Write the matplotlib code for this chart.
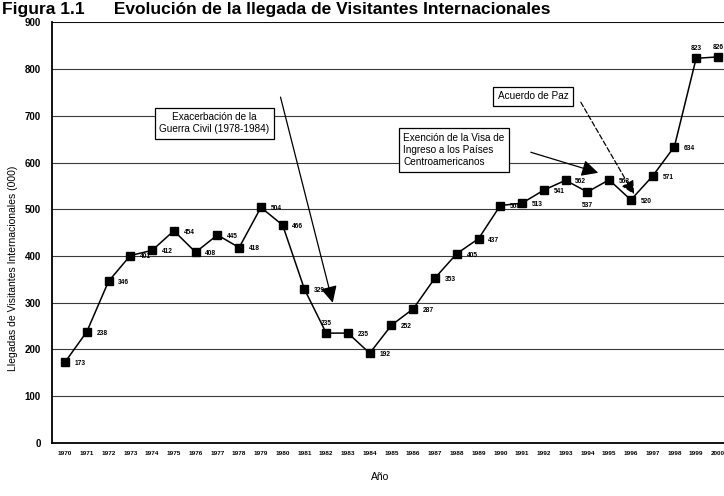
# -*- coding: utf-8 -*-
"""Evolución de la llegada de visitantes internacionales, 1970-2000."""

import matplotlib

matplotlib.use("Agg")
import matplotlib.pyplot as plt
from matplotlib import font_manager

years = list(range(1970, 2001))
visitors = [173, 238, 346, 401, 412, 454, 408, 445, 418, 504,
            466, 329, 235, 235, 192, 252, 287, 353, 405, 437,
            508, 513, 541, 562, 537, 563, 520, 571, 634, 823, 826]
y_ticks = [0, 100, 200, 300, 400, 500, 600, 700, 800, 900]

title = "Figura 1.1      Evolución de la llegada de Visitantes Internacionales"
y_label = "Llegadas de Visitantes Internacionales (000)"
x_label = "Año"
note_war = "Exacerbación de la\nGuerra Civil (1978-1984)"
note_visa = "Exención de la Visa de\nIngreso a los Países\nCentroamericanos"
note_peace = "Acuerdo de Paz"

installed = {f.name for f in font_manager.fontManager.ttflist}
narrow = "Liberation Sans Narrow" if "Liberation Sans Narrow" in installed else "Liberation Sans"
plt.rcParams["font.family"] = [narrow, "DejaVu Sans"]

fig = plt.figure(figsize=(7.24, 4.96), dpi=100)
ax = fig.add_axes([52 / 724, 0.107, 1 - 52 / 724, 0.848])
ax.set_xlim(1969.4, 2000.28)
ax.set_ylim(0, 900)

for v in y_ticks[1:]:
    ax.axhline(v, color="#3a3a3a", lw=0.8, zorder=1)

ax.plot(years, visitors, color="black", lw=1.1, marker="s", markersize=6.2,
        markerfacecolor="black", markeredgecolor="black", zorder=3)

# where a value label does not sit right of its marker
label_place = {1982: (0, 7, "center"), 1994: (0, -10, "center"),
               1999: (0, 7, "center"), 2000: (0, 7, "center")}
for yr, v in zip(years, visitors):
    dx, dy, ha = label_place.get(yr, (7, -1, "left"))
    ax.annotate(str(v), (yr, v), xytext=(dx, dy), textcoords="offset points",
                ha=ha, va="center", fontsize=4.8, fontweight="bold", zorder=4)

box = dict(boxstyle="square,pad=0.45", facecolor="white", edgecolor="black", lw=0.9)
ax.text(1976.85, 684, note_war, ha="center", va="center", fontsize=7.2,
        linespacing=1.3, bbox=box, zorder=5)
ax.text(1985.55, 627, note_visa, ha="left", va="center", multialignment="left",
        fontsize=7.2, linespacing=1.3, bbox=box, zorder=5)
ax.text(1991.5, 742, note_peace, ha="center", va="center", fontsize=7.2,
        bbox=box, zorder=5)

arrow = dict(arrowstyle="-|>,head_length=1.0,head_width=0.5", color="black",
             lw=0.9, shrinkA=0, shrinkB=0)
ax.annotate("", xy=(1982.3, 300), xytext=(1979.9, 740), arrowprops=arrow, zorder=4)
ax.annotate("", xy=(1994.5, 578), xytext=(1991.4, 622), arrowprops=arrow, zorder=4)
ax.annotate("", xy=(1996.15, 532), xytext=(1993.7, 729),
            arrowprops=dict(arrow, arrowstyle="-|>,head_length=0.8,head_width=0.4",
                            linestyle=(0, (4, 2))), zorder=4)

ax.set_xticks(years)
ax.set_xticklabels([str(y) for y in years], fontsize=4.6, fontweight="bold")
ax.set_yticks(y_ticks)
ax.set_yticklabels([str(v) for v in y_ticks], fontsize=7, fontweight="bold")
ax.tick_params(axis="x", length=0, pad=6)
ax.tick_params(axis="y", length=0, pad=8)

for side in ("top", "right"):
    ax.spines[side].set_visible(False)
ax.spines["left"].set_linewidth(1.3)
ax.spines["bottom"].set_linewidth(1.3)
ax.axhline(900, color="black", lw=1.1, zorder=1)

fig.text(380 / 724, 1 - 477 / 496, x_label, ha="center", va="center", fontsize=7.5)
fig.text(13 / 724, 1 - 268 / 496, y_label, rotation=90, ha="center", va="center",
         fontsize=7.5)
fig.text(2 / 724, 1 - 14 / 496, title, ha="left", va="baseline", fontsize=12.5,
         fontweight="bold", family=["Liberation Sans", "DejaVu Sans"])

fig.savefig("out.png", dpi=100, facecolor="white")
plt.close(fig)
